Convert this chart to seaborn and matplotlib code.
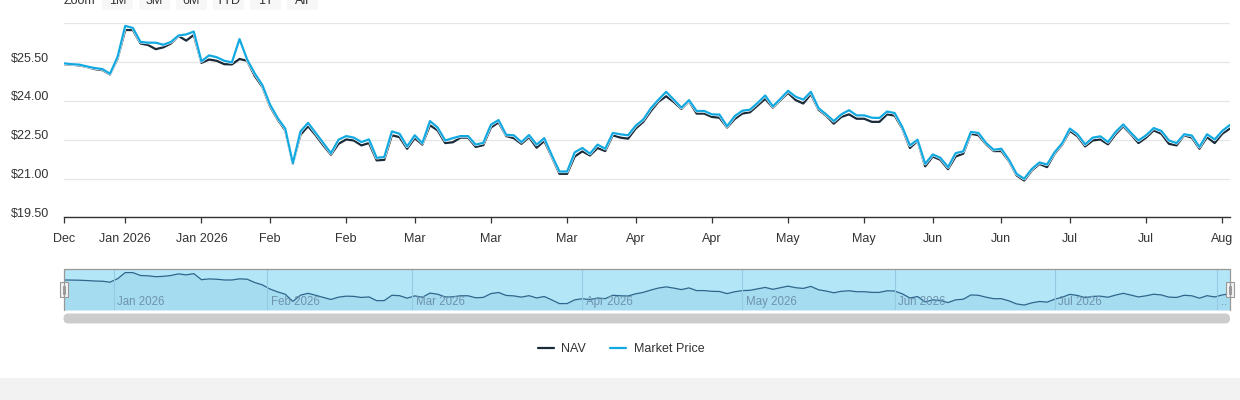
import numpy as np
import pandas as pd
import matplotlib
matplotlib.use("Agg")
import matplotlib.pyplot as plt
import seaborn as sns
from matplotlib.lines import Line2D
from matplotlib.patches import Rectangle, FancyBboxPatch
from matplotlib import patheffects as pe
from matplotlib.transforms import ScaledTranslation

# ---------------- data (one value per trading day, 22 Dec 2025 .. 4 Aug 2026) ----------------
nav = [25.42, 25.40, 25.37, 25.31, 25.23, 25.19, 25.02, 25.64, 26.74, 26.74, 26.22, 26.16, 26.00,
       26.07, 26.22, 26.51, 26.33, 26.55, 25.47, 25.60, 25.55, 25.42, 25.41, 25.62, 25.55, 24.96,
       24.54, 23.79, 23.28, 22.86, 21.57, 22.69, 23.02, 22.67, 22.28, 21.92, 22.34, 22.51, 22.47,
       22.28, 22.37, 21.70, 21.72, 22.67, 22.60, 22.15, 22.56, 22.31, 23.06, 22.86, 22.37, 22.40,
       22.58, 22.58, 22.22, 22.29, 22.97, 23.17, 22.64, 22.56, 22.34, 22.60, 22.19, 22.45, 21.83,
       21.18, 21.18, 21.85, 22.05, 21.89, 22.18, 22.06, 22.67, 22.58, 22.54, 22.93, 23.19,
       23.61, 23.97, 24.18, 23.96, 23.69, 23.99, 23.51, 23.51, 23.38, 23.35, 22.97, 23.30, 23.51,
       23.56, 23.82, 24.08, 23.74, 24.03, 24.31, 24.03, 23.90, 24.26, 23.66, 23.43, 23.12, 23.38,
       23.48, 23.31, 23.31, 23.19, 23.19, 23.48, 23.43, 22.93, 22.18, 22.45, 21.47, 21.85, 21.72,
       21.36, 21.85, 21.96, 22.73, 22.67, 22.32, 22.06, 22.06, 21.67, 21.12, 20.92, 21.31, 21.56,
       21.44, 21.96, 22.32, 22.84, 22.63, 22.24, 22.47, 22.51, 22.32, 22.71, 23.02, 22.71, 22.37,
       22.58, 22.86, 22.73, 22.34, 22.28, 22.67, 22.58, 22.15, 22.60, 22.37, 22.73, 22.93]

market_price = [25.45, 25.42, 25.40, 25.33, 25.27, 25.23, 25.05, 25.71, 26.90, 26.82, 26.28, 26.25, 26.25,
                26.17, 26.28, 26.53, 26.57, 26.68, 25.53, 25.76, 25.69, 25.55, 25.49, 26.39, 25.60, 25.06,
                24.61, 23.86, 23.34, 22.93, 21.59, 22.82, 23.15, 22.76, 22.37, 21.98, 22.50, 22.64, 22.58,
                22.41, 22.51, 21.80, 21.83, 22.82, 22.73, 22.24, 22.67, 22.37, 23.22, 22.97, 22.47, 22.56,
                22.64, 22.64, 22.31, 22.38, 23.08, 23.26, 22.69, 22.67, 22.41, 22.68, 22.31, 22.56, 21.89,
                21.27, 21.27, 22.01, 22.18, 21.96, 22.31, 22.15, 22.76, 22.71, 22.67, 23.04, 23.28,
                23.72, 24.05, 24.35, 24.05, 23.74, 24.03, 23.61, 23.61, 23.48, 23.47, 23.02, 23.41, 23.62,
                23.66, 23.92, 24.21, 23.79, 24.08, 24.39, 24.16, 24.05, 24.35, 23.72, 23.48, 23.22, 23.48,
                23.64, 23.44, 23.44, 23.35, 23.34, 23.59, 23.53, 22.99, 22.28, 22.50, 21.57, 21.93, 21.80,
                21.44, 21.98, 22.05, 22.80, 22.76, 22.37, 22.11, 22.15, 21.72, 21.18, 20.99, 21.37, 21.62,
                21.54, 22.02, 22.37, 22.93, 22.71, 22.32, 22.58, 22.63, 22.41, 22.80, 23.09, 22.77, 22.47,
                22.67, 22.95, 22.84, 22.47, 22.37, 22.71, 22.66, 22.22, 22.71, 22.51, 22.84, 23.07]

tick_days = [0, 8, 18, 27, 37, 46, 56, 66, 75, 85, 95, 105, 114, 123, 132, 142, 152]
tick_labels = ["Dec", "Jan 2026", "Jan 2026", "Feb", "Feb", "Mar", "Mar", "Mar", "Apr", "Apr",
               "May", "May", "Jun", "Jun", "Jul", "Jul", "Aug"]
y_ticks = [19.5, 21.0, 22.5, 24.0, 25.5, 27.0]
y_labels = ["$19.50", "$21.00", "$22.50", "$24.00", "$25.50", ""]
nav_month_days = [6.5, 26.67, 45.67, 68, 89, 109, 130, 151.33]
nav_month_labels = ["Jan 2026", "Feb 2026", "Mar 2026", "Apr 2026", "May 2026", "Jun 2026", "Jul 2026", ".."]
zoom_buttons = ["1M", "3M", "6M", "YTD", "1Y", "All"]

# ---------------- figure ----------------
W, H = 1240, 400
sns.set_theme(style="white")
plt.rcParams['font.family'] = ['Liberation Sans', 'DejaVu Sans']

fig = plt.figure(figsize=(W / 100, H / 100), dpi=100)
fig.patch.set_facecolor("white")


def fx(px):
    return px / W


def fy(py):
    return 1 - py / H


days = np.arange(len(nav))
df = pd.DataFrame({
    "day": np.concatenate([days, days]),
    "price": np.array(nav + market_price),
    "series": ["NAV"] * len(nav) + ["Market Price"] * len(market_price),
})

TXT = "#333333"
x0, x1 = 64.3, 1229.9
top, bot = 23.3, 217.3

ax = fig.add_axes([fx(x0), fy(bot), fx(x1 - x0), (bot - top) / H])
palette = {"NAV": "#1b2a38", "Market Price": "#12a8e0"}
sns.lineplot(data=df, x="day", y="price", hue="series", hue_order=["NAV", "Market Price"],
             palette=palette, linewidth=1.6, estimator=None, legend=False, ax=ax)
ax.lines[1].set_path_effects([pe.Stroke(linewidth=2.3, foreground="white"), pe.Normal()])
ax.set_xlim(0, len(nav) - 1)
ax.set_ylim(19.5, 27.0)
ax.set_xlabel("")
ax.set_ylabel("")
ax.set_yticks(y_ticks)
ax.set_yticklabels(y_labels)
ax.yaxis.grid(True, color="#e6e6e6", linewidth=0.9)
ax.xaxis.grid(False)
ax.tick_params(axis="y", left=False, length=0, pad=11, labelsize=9, labelcolor=TXT)
for lab in ax.get_yticklabels():
    lab.set_transform(lab.get_transform() + ScaledTranslation(0, 5 / 100, fig.dpi_scale_trans))
ax.set_xticks(tick_days)
ax.set_xticklabels(tick_labels)
ax.tick_params(axis="x", bottom=True, direction="out", length=4, width=0.9, color="#333333",
               pad=7, labelsize=9, labelcolor=TXT)
for s in ["top", "right", "left"]:
    ax.spines[s].set_visible(False)
ax.spines["bottom"].set_color("#333333")
ax.spines["bottom"].set_linewidth(1.0)

# ---------------- navigator ----------------
nt, nb = 269.3, 310.0
nax = fig.add_axes([fx(x0), fy(nb), fx(x1 - x0), (nb - nt) / H])
nax.set_facecolor("#b3e6f7")
nlo, nhi = 20.03, 27.33
nax.fill_between(days, nav, nlo, color="#a6dcf0", linewidth=0)
sns.lineplot(x=days, y=nav, ax=nax, color="#2f668c", linewidth=0.9, estimator=None)
for d, lab in zip(nav_month_days, nav_month_labels):
    nax.axvline(d, color="#94cbe2", linewidth=0.8)
    nax.annotate(lab, (d, 0.19), xycoords=("data", "axes fraction"), xytext=(2.5, 0),
                 textcoords="offset points", ha="left", va="center", fontsize=8.3,
                 color="#6f93ae", annotation_clip=False, clip_on=True)
nax.set_xlim(0, len(nav) - 1)
nax.set_ylim(nlo, nhi)
nax.set_xticks([])
nax.set_yticks([])
nax.set_xlabel("")
nax.set_ylabel("")
for s in nax.spines.values():
    s.set_visible(False)

# ---------------- decorations in pixel space ----------------
deco = fig.add_axes([0, 0, 1, 1])
deco.set_xlim(0, W)
deco.set_ylim(H, 0)
deco.axis("off")
deco.patch.set_alpha(0)

# zoom buttons (cut at top, as in the reference)
deco.text(64, 4.5, "Zoom", ha="left", va="baseline", fontsize=9, color="#333333")
bx = [102, 139, 176, 213, 250, 287]
for b, lab in zip(bx, zoom_buttons):
    deco.add_patch(FancyBboxPatch((b, -12), 31, 22, boxstyle="round,pad=0,rounding_size=2",
                                  facecolor="#f7f7f7", edgecolor="none"))
    deco.text(b + 15.5, 4.5, lab, ha="center", va="baseline", fontsize=9, color="#333333")

# navigator outline
deco.plot([x0, x1], [nt, nt], color="#999999", linewidth=0.9)
deco.plot([x0, x0], [nt, nb], color="#999999", linewidth=0.9)
deco.plot([x1, x1], [nt, nb], color="#999999", linewidth=0.9)
for hx in [x0, x1]:
    deco.add_patch(Rectangle((hx - 4, 282), 8, 15, facecolor="#f2f2f2", edgecolor="#999999", linewidth=0.8))
    deco.plot([hx - 1, hx - 1], [285.5, 293.5], color="#999999", linewidth=0.7)
    deco.plot([hx + 1, hx + 1], [285.5, 293.5], color="#999999", linewidth=0.7)

# scrollbar
deco.add_patch(FancyBboxPatch((63.5, 313.5), 1166.5, 10, boxstyle="round,pad=0,rounding_size=5",
                              facecolor="#cccccc", edgecolor="none"))

# bottom band
deco.add_patch(Rectangle((0, 378), W, 22, facecolor="#f2f2f2", edgecolor="none"))

# legend
handles = [Line2D([], [], color=palette["NAV"], linewidth=1.6),
           Line2D([], [], color=palette["Market Price"], linewidth=1.6)]
fig.legend(handles, ["NAV", "Market Price"], loc="center", bbox_to_anchor=(fx(621), fy(349)),
           ncol=2, frameon=False, fontsize=9, labelcolor=TXT, handlelength=1.3,
           handletextpad=0.6, columnspacing=1.9)

fig.savefig("out.png", dpi=100, facecolor="white")
